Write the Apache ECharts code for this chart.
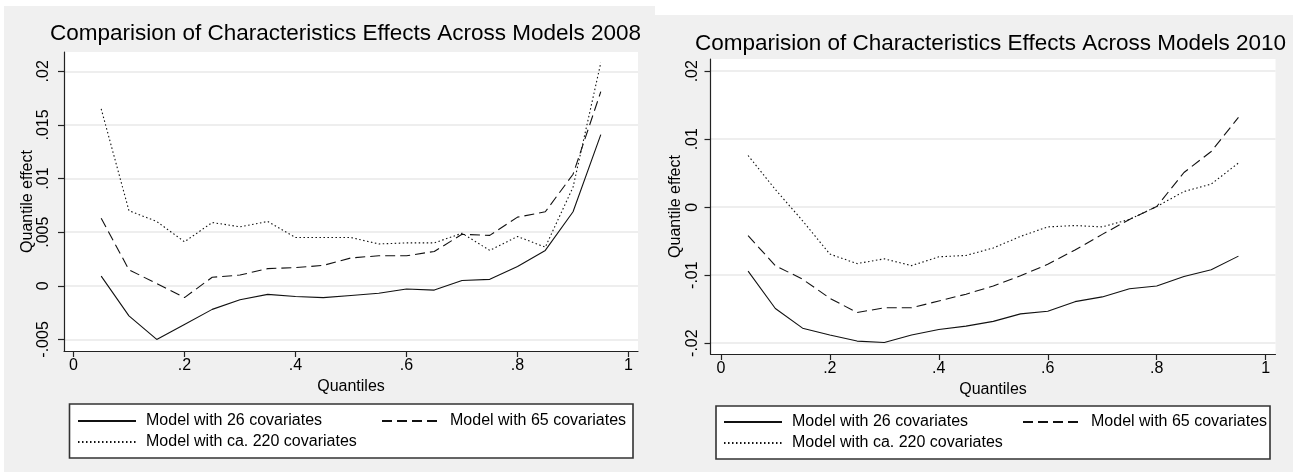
<!DOCTYPE html>
<html>
<head>
<meta charset="utf-8">
<script src="https://cdn.jsdelivr.net/npm/echarts@6/dist/echarts.min.js"></script>
<style>
html,body{margin:0;padding:0;background:#fff;}
#chart{width:1293px;height:472px;}
</style>
</head>
<body>
<div id="chart"></div>
<script>
// ---- data ----
const quantiles = [0.05,0.10,0.15,0.20,0.25,0.30,0.35,0.40,0.45,0.50,0.55,0.60,0.65,0.70,0.75,0.80,0.85,0.90,0.95];

const m26_2008  = [0.0009,-0.0028,-0.0050,-0.0036,-0.0022,-0.0013,-0.0008,-0.0010,-0.0011,-0.0009,-0.0007,-0.0003,-0.0004,0.0005,0.0006,0.0018,0.0033,0.0069,0.0141];
const m65_2008  = [0.0063,0.0015,0.0002,-0.0011,0.0008,0.0010,0.0016,0.0017,0.0019,0.0026,0.0028,0.0028,0.0032,0.0048,0.0047,0.0064,0.0069,0.0104,0.0181];
const m220_2008 = [0.0165,0.0070,0.0060,0.0041,0.0059,0.0055,0.0060,0.0045,0.0045,0.0045,0.0039,0.0040,0.0040,0.0049,0.0033,0.0046,0.0036,0.0092,0.0208];

const m26_2010  = [-0.0094,-0.0149,-0.0178,-0.0188,-0.0197,-0.0199,-0.0188,-0.0180,-0.0175,-0.0168,-0.0157,-0.0153,-0.0139,-0.0132,-0.0120,-0.0116,-0.0102,-0.0092,-0.0072];
const m65_2010  = [-0.0042,-0.0086,-0.0106,-0.0134,-0.0155,-0.0148,-0.0148,-0.0138,-0.0128,-0.0116,-0.0101,-0.0084,-0.0063,-0.0040,-0.0018,0.0001,0.0051,0.0082,0.0132];
const m220_2010 = [0.0076,0.0026,-0.0020,-0.0069,-0.0083,-0.0076,-0.0086,-0.0073,-0.0071,-0.0060,-0.0043,-0.0029,-0.0027,-0.0029,-0.0018,0.0001,0.0023,0.0034,0.0065];

const seriesNames = ['Model with 26 covariates','Model with 65 covariates','Model with ca. 220 covariates'];
const titles = ['Comparision of Characteristics Effects Across Models 2008','Comparision of Characteristics Effects Across Models 2010'];

const xTicks = [0,0.2,0.4,0.6,0.8,1];
const xTickLabels = ['0','.2','.4','.6','.8','1'];
const yTicks2008 = [-0.005,0,0.005,0.01,0.015,0.02];
const yTickLabels2008 = ['-.005','0','.005','.01','.015','.02'];
const yTicks2010 = [-0.02,-0.01,0,0.01,0.02];
const yTickLabels2010 = ['-.02','-.01','0','.01','.02'];

// ---- chart ----
const FONT = "'Liberation Sans', Arial, sans-serif";
const pairs = arr => quantiles.map((q,i)=>[q,arr[i]]);
const labeler = (ticks, labels) => v => {
  const i = ticks.findIndex(t => Math.abs(t - v) < 1e-9);
  return i >= 0 ? labels[i] : '';
};
const styles = [
  {type:'solid', width:1.1},
  {type:[10,5], width:1.1},
  {type:[1.5,2.5], width:1.1}
];

function xAxisCfg(gridIndex, min, max, nameGap){
  return {
    type:'value', gridIndex, min, max,
    name:'Quantiles', nameLocation:'middle', nameGap,
    nameTextStyle:{fontSize:16, color:'#000', fontFamily:FONT},
    axisLine:{show:true, onZero:false, lineStyle:{color:'#222', width:1.2}},
    axisTick:{show:true, length:6, customValues:xTicks, lineStyle:{color:'#222', width:1.2}},
    axisLabel:{customValues:xTicks, formatter:labeler(xTicks,xTickLabels), fontSize:16, color:'#000', fontFamily:FONT, margin:7},
    splitLine:{show:false}
  };
}
function yAxisCfg(gridIndex, min, max, ticks, labels, nameGap, margin){
  return {
    type:'value', gridIndex, min, max,
    name:'Quantile effect', nameLocation:'middle', nameGap, nameRotate:90,
    nameTextStyle:{fontSize:16, color:'#000', fontFamily:FONT},
    axisLine:{show:true, onZero:false, lineStyle:{color:'#222', width:1.2}},
    axisTick:{show:true, length:6, customValues:ticks, lineStyle:{color:'#222', width:1.2}},
    axisLabel:{customValues:ticks, formatter:labeler(ticks,labels), rotate:90, fontSize:16, color:'#000', fontFamily:FONT, margin},
    splitLine:{show:true, lineStyle:{color:'#e8e8e8', width:1.5}}
  };
}
function legendItem(name, left, top){
  return {
    data:[name], left, top, orient:'horizontal', padding:0,
    itemWidth:58, itemHeight:16, selectedMode:false,
    itemStyle:{opacity:0, borderWidth:0},
    textStyle:{fontSize:16, color:'#000', fontFamily:FONT, padding:[0,0,0,5]}
  };
}

const series = [];
[[m26_2008,m65_2008,m220_2008],[m26_2010,m65_2010,m220_2010]].forEach((set,g)=>{
  set.forEach((arr,k)=>{
    series.push({
      type:'line', name:seriesNames[k], xAxisIndex:g, yAxisIndex:g,
      data:pairs(arr), symbol:'none', showSymbol:false,
      lineStyle:Object.assign({color:'#111'}, styles[k]),
      itemStyle:{color:'#111'},
      emphasis:{disabled:true}
    });
  });
});

const chart = echarts.init(document.getElementById('chart'), null, {renderer:'canvas'});
chart.setOption({
  animation:false,
  backgroundColor:'#ffffff',
  graphic:[
    {type:'rect', z:-10, silent:true, shape:{x:4,y:6,width:1289,height:466}, style:{fill:'#f0f0f0'}},
    {type:'rect', z:-9, silent:true, shape:{x:655,y:0,width:638,height:15}, style:{fill:'#ffffff'}},
    {type:'rect', z:-1, silent:true, shape:{x:69.5,y:404,width:563.5,height:54}, style:{fill:'#ffffff', stroke:'#333', lineWidth:1.6}},
    {type:'rect', z:-1, silent:true, shape:{x:716,y:406,width:554,height:53}, style:{fill:'#ffffff', stroke:'#333', lineWidth:1.6}}
  ],
  title:[
    {text:titles[0], left:50, top:22.5, padding:0, textStyle:{fontSize:22.5, fontWeight:'normal', color:'#000', fontFamily:FONT}},
    {text:titles[1], left:695, top:32, padding:0, textStyle:{fontSize:22.5, fontWeight:'normal', color:'#000', fontFamily:FONT}}
  ],
  grid:[
    {left:64, top:52, width:574, height:299, show:true, backgroundColor:'#ffffff', borderWidth:0, containLabel:false},
    {left:710.5, top:59, width:565, height:295, show:true, backgroundColor:'#ffffff', borderWidth:0, containLabel:false}
  ],
  xAxis:[ xAxisCfg(0,-0.017,1.017,24), xAxisCfg(1,-0.019,1.018,25) ],
  yAxis:[
    yAxisCfg(0,-0.00608,0.0218,yTicks2008,yTickLabels2008,20,12),
    yAxisCfg(1,-0.0216,0.0218,yTicks2010,yTickLabels2010,24,10)
  ],
  legend:[
    legendItem(seriesNames[0], 77, 413),
    legendItem(seriesNames[1], 381, 413),
    legendItem(seriesNames[2], 77, 434),
    legendItem(seriesNames[0], 723, 414),
    legendItem(seriesNames[1], 1022, 414),
    legendItem(seriesNames[2], 723, 435)
  ],
  series
});
</script>
</body>
</html>
